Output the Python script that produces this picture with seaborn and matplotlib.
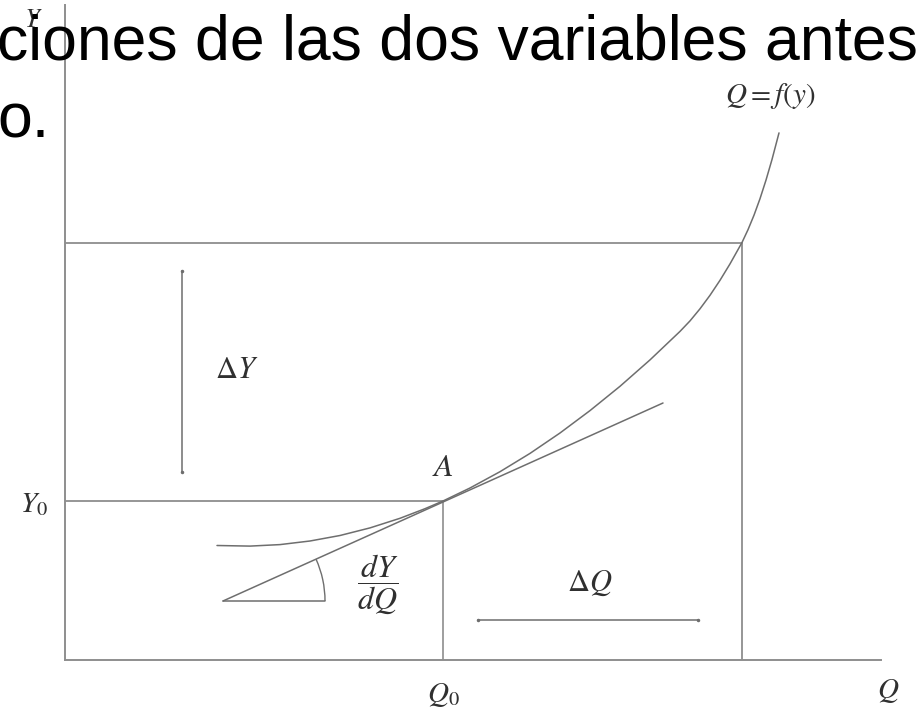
import matplotlib
matplotlib.use("Agg")
import matplotlib.pyplot as plt
from matplotlib.patches import Arc
import pandas as pd
import seaborn as sns

# Texto de la diapositiva (cortado por la izquierda)
linea_1 = "ciones de las dos variables antes"
linea_2 = "o."

# Curva Q = f(y)
q_curva = [15.2, 18.5, 21.5, 24.5, 27.5, 30.5, 33.5, 36.0, 37.8, 40.5, 43.5, 46.5,
           49.5, 52.5, 55.5, 58.5, 61.5, 62.5, 63.5, 64.5, 65.5, 66.5, 67.7,
           68.3, 68.9, 69.5, 70.1, 70.7, 71.4]
y_curva = [11.45, 11.39, 11.54, 11.90, 12.45, 13.21, 14.17, 15.13, 15.90, 17.20, 18.83, 20.66,
           22.70, 24.94, 27.37, 30.01, 32.86, 33.91, 35.12, 36.47, 37.97, 39.61, 41.75,
           43.03, 44.48, 46.13, 47.99, 50.05, 52.71]

# Punto A y punto final
q0, y0 = 37.8, 15.9
q1, y1 = 67.7, 41.75

# Tangente en A
tangente_q = [15.8, 59.8]
tangente_y = [5.9, 25.7]
angulo = 24.2  # grados
radio_arco = 10.2

# Flechas de incremento
delta_y_q = 11.7
delta_y_lim = [18.8, 38.9]
delta_q_y = 4.0
delta_q_lim = [41.3, 63.3]

q_max, y_max = 81.6, 65.5

sns.set_theme(style="white")
plt.rcParams["mathtext.fontset"] = "stix"
plt.rcParams["font.family"] = ["Liberation Sans", "DejaVu Sans"]

fig = plt.figure(figsize=(9.2, 7.16), dpi=100)
ax = fig.add_axes([65 / 920, 56 / 716, 816 / 920, 655 / 716])
ax.set_xlim(0, q_max)
ax.set_ylim(0, y_max)

gris_eje = "#8e8e8e"
gris_linea = "#6e6e6e"
color_txt = "#303030"

for lado in ["left", "bottom"]:
    ax.spines[lado].set_color(gris_eje)
    ax.spines[lado].set_linewidth(1.4)
sns.despine(ax=ax)

# Rectangulos de referencia
ax.plot([0, q1], [y1, y1], color=gris_eje, lw=1.3)
ax.plot([q1, q1], [0, y1], color=gris_eje, lw=1.3)
ax.plot([0, q0], [y0, y0], color=gris_eje, lw=1.3)
ax.plot([q0, q0], [0, y0], color=gris_eje, lw=1.2)

# Curva
df = pd.DataFrame({"Q": q_curva, "Y": y_curva})
sns.lineplot(data=df, x="Q", y="Y", sort=False, estimator=None,
             color=gris_linea, lw=1.1, ax=ax)

# Tangente y angulo
ax.plot(tangente_q, tangente_y, color=gris_linea, lw=1.1)
ax.plot([tangente_q[0], tangente_q[0] + radio_arco], [tangente_y[0], tangente_y[0]],
        color=gris_linea, lw=1.1)
ax.add_patch(Arc((tangente_q[0], tangente_y[0]), 2 * radio_arco, 2 * radio_arco,
                 theta1=0, theta2=angulo, color=gris_linea, lw=1.0))

# Incrementos
ax.plot([delta_y_q, delta_y_q], delta_y_lim, color=gris_linea, lw=1.1,
        marker=".", markersize=3)
ax.plot(delta_q_lim, [delta_q_y, delta_q_y], color=gris_linea, lw=1.1,
        marker=".", markersize=3)

# Etiquetas
ax.set_xticks([q0], [r"$Q_0$"])
ax.set_yticks([y0], [r"$Y_0$"])
ax.tick_params(axis="x", length=0, pad=15, labelsize=21, labelcolor=color_txt)
ax.tick_params(axis="y", length=0, pad=12, labelsize=21, labelcolor=color_txt)
ax.set_xlabel("")
ax.set_ylabel("")

etq = dict(color=color_txt, ha="center", va="center", clip_on=False)
ax.text(-3.2, 64.0, r"$Y$", fontsize=19, **etq)
ax.text(70.5, 56.4, r"$Q = f(y)$", fontsize=21, **etq)
ax.text(17.2, 29.0, r"$\Delta Y$", fontsize=22, **etq)
ax.text(37.8, 19.2, r"$A$", fontsize=23, **etq)
ax.text(31.3, 7.5, r"$\dfrac{dY}{dQ}$", fontsize=23, **etq)
ax.text(52.5, 7.7, r"$\Delta Q$", fontsize=22, **etq)
ax.text(82.3, -3.1, r"$Q$", fontsize=21, **etq)

# Texto de la diapositiva por encima
fig.text(-0.003, (716 - 60) / 716, linea_1, fontsize=45, color="black",
         va="baseline", ha="left", family=["Liberation Sans", "DejaVu Sans"])
fig.text(-0.003, (716 - 137) / 716, linea_2, fontsize=45, color="black",
         va="baseline", ha="left", family=["Liberation Sans", "DejaVu Sans"])

fig.savefig("out.png", dpi=100, facecolor="white")
